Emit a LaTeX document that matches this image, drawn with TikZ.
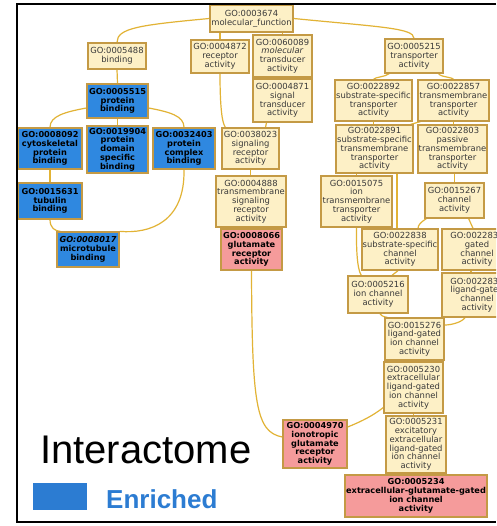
\documentclass[tikz,border=0pt]{standalone}
\usepackage{fontspec}
\usetikzlibrary{backgrounds}
\setmainfont{DejaVu Sans}
\newfontfamily\legendfont{Liberation Sans}
\definecolor{gocream}{HTML}{FDF0C6}
\definecolor{goborder}{HTML}{C49A45}
\definecolor{goedge}{HTML}{E2B335}
\definecolor{goblue}{HTML}{2F88E0}
\definecolor{gopink}{HTML}{F59B9B}
\definecolor{gotext}{HTML}{3A3A3A}
\definecolor{enrblue}{HTML}{2C7CD2}
\tikzset{
  go/.style={draw=goborder, line width=1.3pt, fill=gocream, text=gotext, align=center,
    inner sep=0.5pt, font=\fontsize{8.4}{8.8}\selectfont},
  gblue/.style={go, fill=goblue, text=black, font=\bfseries\fontsize{8.2}{8.8}\selectfont},
  gpink/.style={go, fill=gopink, text=black, font=\bfseries\fontsize{8.2}{8.8}\selectfont},
  edge/.style={draw=goedge, line width=1.2pt},
}
\begin{document}
\begin{tikzpicture}[x=1pt,y=-1pt]
\useasboundingbox (0,0) rectangle (496,526);
\clip (0,0) rectangle (496,526);

% nodes
\node[go, minimum width=83pt, minimum height=27pt] (mf) at (251.5,18.5) {GO:0003674\\molecular\_function};
\node[go, minimum width=58pt, minimum height=26pt] (b5488) at (117,56) {GO:0005488\\binding};
\node[go, minimum width=58pt, minimum height=33pt] (r4872) at (220,56.5) {GO:0004872\\receptor\\activity};
\node[go, minimum width=59pt, minimum height=42pt] (t60089) at (282.5,56) {GO:0060089\\\textit{molecular}\\transducer\\activity};
\node[go, minimum width=59pt, minimum height=43pt] (s4871) at (282.5,100.5) {GO:0004871\\signal\\transducer\\activity};
\node[go, minimum width=58pt, minimum height=34pt] (tr5215) at (414,56) {GO:0005215\\transporter\\activity};
\node[go, minimum width=77pt, minimum height=41pt] (n22892) at (373.5,100.5) {GO:0022892\\substrate-specific\\transporter\\activity};
\node[go, minimum width=71pt, minimum height=41pt] (n22857) at (453.5,100.5) {GO:0022857\\transmembrane\\transporter\\activity};
\node[gblue, minimum width=61pt, minimum height=34pt] (pb5515) at (117.5,101) {GO:0005515\\protein\\binding};
\node[gblue, minimum width=64pt, minimum height=41pt] (cy8092) at (50,148.5) {GO:0008092\\cytoskeletal\\protein\\binding};
\node[gblue, minimum width=61pt, minimum height=47pt] (pd19904) at (117.5,149.5) {GO:0019904\\protein\\domain\\specific\\binding};
\node[gblue, minimum width=62pt, minimum height=41pt] (pc32403) at (184,148.5) {GO:0032403\\protein\\complex\\binding};
\node[gblue, minimum width=64pt, minimum height=36pt] (tb15631) at (50,201) {GO:0015631\\tubulin\\binding};
\node[gblue, minimum width=62pt, minimum height=35pt] (mt8017) at (88,249.5) {\textit{GO:0008017}\\microtubule\\binding};
\node[go, minimum width=57pt, minimum height=41pt] (sr38023) at (250.5,148.5) {GO:0038023\\signaling\\receptor\\activity};
\node[go, minimum width=70pt, minimum height=51pt] (ts4888) at (251,201.5) {GO:0004888\\transmembrane\\signaling\\receptor\\activity};
\node[gpink, minimum width=61pt, minimum height=41pt] (gr8066) at (251.5,249.5) {GO:0008066\\glutamate\\receptor\\activity};
\node[go, minimum width=77pt, minimum height=48pt] (n22891) at (374.5,149) {GO:0022891\\substrate-specific\\transmembrane\\transporter\\activity};
\node[go, minimum width=69pt, minimum height=48pt] (n22803) at (452.5,149) {GO:0022803\\passive\\transmembrane\\transporter\\activity};
\node[go, minimum width=71pt, minimum height=51pt] (n15075) at (356.5,201.5) {GO:0015075\\ion\\transmembrane\\transporter\\activity};
\node[go, minimum width=59pt, minimum height=35pt] (n15267) at (454.5,200.5) {GO:0015267\\channel\\activity};
\node[go, minimum width=76pt, minimum height=41pt] (n22838) at (400,249.5) {GO:0022838\\substrate-specific\\channel\\activity};
\node[go, minimum width=70pt, minimum height=41pt] (n22836) at (477,249.5) {GO:0022836\\gated\\channel\\activity};
\node[go, minimum width=70pt, minimum height=44pt] (n22834) at (477,295) {GO:0022834\\ligand-gated\\channel\\activity};
\node[go, minimum width=60pt, minimum height=37pt] (n5216) at (378,294.5) {GO:0005216\\ion channel\\activity};
\node[go, minimum width=59pt, minimum height=42pt] (n15276) at (414.5,339) {GO:0015276\\ligand-gated\\ion channel\\activity};
\node[go, minimum width=59pt, minimum height=51pt] (n5230) at (413.5,387.5) {GO:0005230\\extracellular\\ligand-gated\\ion channel\\activity};
\node[go, minimum width=60pt, minimum height=57pt] (n5231) at (416,444.5) {GO:0005231\\excitatory\\extracellular\\ligand-gated\\ion channel\\activity};
\node[gpink, minimum width=64pt, minimum height=48pt] (io4970) at (315,444) {GO:0004970\\ionotropic\\glutamate\\receptor\\activity};
\node[gpink, minimum width=142pt, minimum height=42pt] (eg5234) at (416,496) {GO:0005234\\extracellular-glutamate-gated\\ion channel\\activity};

% edges, behind the nodes
\begin{pgfonlayer}{background}
\fill[white] (0,0) rectangle (496,526);
\draw[edge] (mf.west) .. controls (140,25) and (117,28) .. (b5488.north);
\draw[edge] (r4872.north) -- (r4872.north |- mf.south);
\draw[edge] (t60089.north) -- (t60089.north |- mf.south);
\draw[edge] (mf.east) .. controls (380,27) and (414,28) .. (tr5215.north);
\draw[edge] (b5488.south) -- (pb5515.north);
\draw[edge] ([yshift=-7pt]pb5515.west) .. controls (65,112) and (50,116) .. (cy8092.north);
\draw[edge] (pb5515.south) -- (pd19904.north);
\draw[edge] ([yshift=-7pt]pb5515.east) .. controls (170,112) and (184,116) .. (pc32403.north);
\draw[edge] (cy8092.south) -- (tb15631.north);
\draw[edge] (tb15631.south) .. controls (50,228) and (55,231) .. ([xshift=4pt]mt8017.north west);
\draw[edge] (pc32403.south) .. controls (185,222) and (150,234) .. (mt8017.north east);
\draw[edge] (r4872.south) .. controls (220,120) and (224,125) .. ([xshift=4pt]sr38023.north west);
\draw[edge] ([xshift=-16pt]s4871.south) -- ([xshift=15pt]sr38023.north);
\draw[edge] (sr38023.south) -- (ts4888.north -| sr38023.south);
\draw[edge] (ts4888.south) -- (gr8066.north -| ts4888.south);
\draw[edge] (gr8066.south) .. controls (252,405) and (256,432) .. ([yshift=7pt]io4970.west);
\draw[edge] ([yshift=-20pt]n5230.west) .. controls (370,418) and (355,424) .. ([yshift=17pt]io4970.east);
\draw[edge] ([xshift=5pt]tr5215.south west) .. controls (385,77) and (375,77) .. (n22892.north);
\draw[edge] ([xshift=-5pt]tr5215.south east) .. controls (440,77) and (452,77) .. (n22857.north);
\draw[edge] (n22892.south) -- (n22892.south |- n22891.north);
\draw[edge] ([xshift=3pt]n22857.south west) -- ([xshift=-3pt]n22891.north east);
\draw[edge] (n22857.south) -- (n22857.south |- n22803.north);
\draw[edge] (n15075.north) -- (n15075.north |- n22891.south);
\draw[edge] ([xshift=-3pt]n22838.north) -- ([xshift=-3pt]n22838.north |- n22891.south);
\draw[edge] (n15267.north) -- (n15267.north |- n22803.south);
\draw[edge] (n15075.south) .. controls (356,262) and (359,272) .. ([xshift=14pt]n5216.north west);
\draw[edge] ([xshift=-2pt]n22838.south) -- ([xshift=14pt]n5216.north);
\draw[edge] ([xshift=2pt]n15267.south west) .. controls (421,222) and (418,225) .. ([xshift=18pt]n22838.north);
\draw[edge] ([xshift=-16pt]n15267.south east) -- ([xshift=-4pt]n22836.north);
\draw[edge] ([xshift=-6pt]n22836.south) -- ([xshift=-6pt]n22834.north);
\draw[edge] ([xshift=2pt]n5216.south) .. controls (382,317) and (386,317) .. ([xshift=3pt]n15276.north west);
\draw[edge] ([xshift=-12pt]n22834.south) .. controls (462,322) and (452,325) .. ([yshift=14pt]n15276.east);
\draw[edge] (n5230.north) -- (n5230.north |- n15276.south);
\draw[edge] (n5230.south) -- (n5230.south |- n5231.north);
\draw[edge] (n5231.south) -- (n5231.south |- eg5234.north);
\end{pgfonlayer}

% legend
\node[anchor=base west, inner sep=0, font=\legendfont\fontsize{40}{40}\selectfont] (leg) at (40,463) {Interactome};
\node[fill=enrblue, minimum width=54pt, minimum height=27pt, inner sep=0] (legbox) at (60,496.5) {};
\node[anchor=base west, inner sep=0, text=enrblue, font=\legendfont\bfseries\fontsize{26}{26}\selectfont] (enr) at (106,508) {Enriched};

% frame
\draw[line width=2.5pt] (496,4) -- (17,4) -- (17,522) -- (496,522);
\end{tikzpicture}
\end{document}
